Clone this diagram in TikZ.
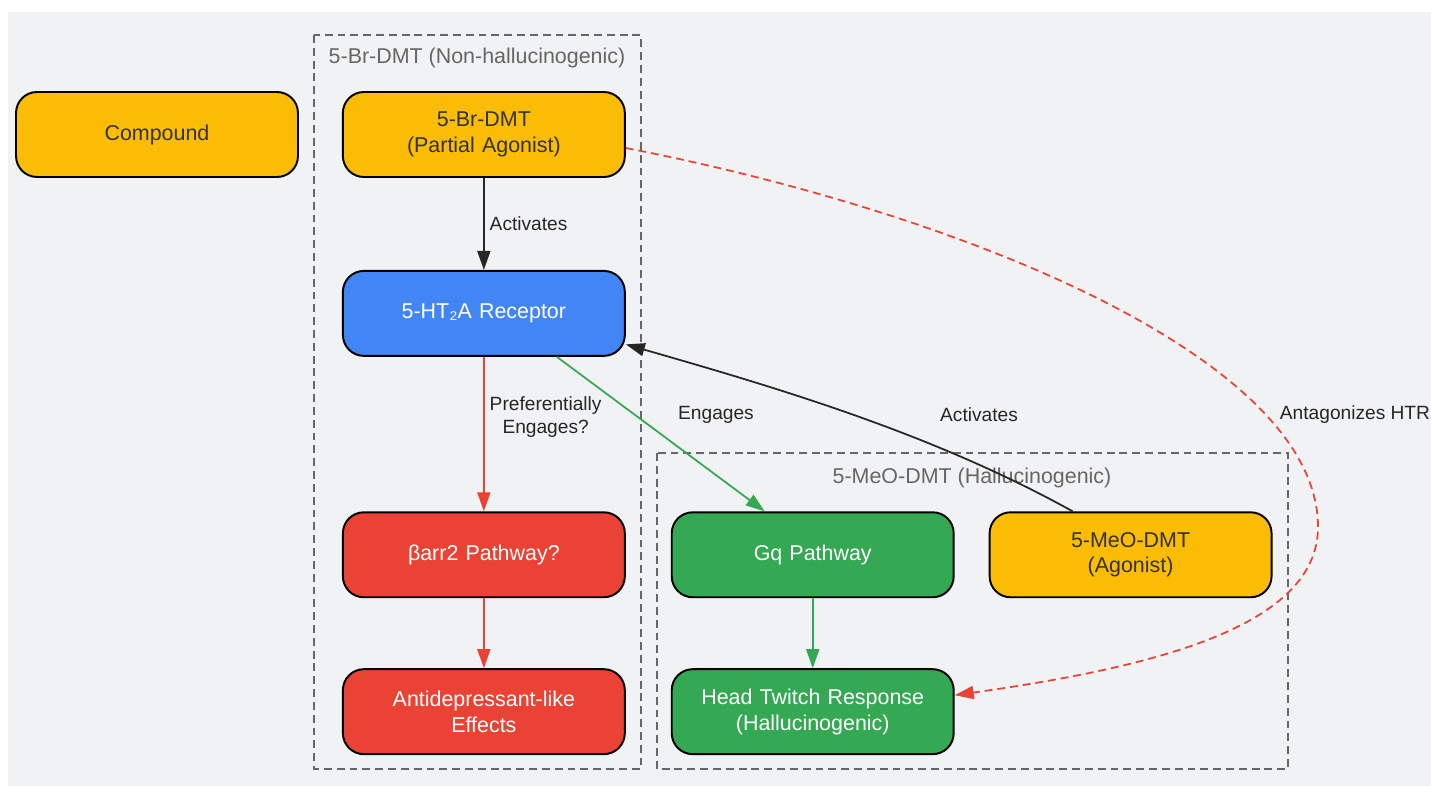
\documentclass[tikz,border=0pt]{standalone}
\usepackage{fontspec}
\setmainfont{Liberation Sans}
\usepackage{tikz}
\usetikzlibrary{arrows.meta,matrix}
\usepackage{xcolor}
\definecolor{bgcol}{HTML}{F1F2F4}
\definecolor{gyellow}{HTML}{FBBC05}
\definecolor{gblue}{HTML}{4285F4}
\definecolor{gred}{HTML}{EA4335}
\definecolor{ggreen}{HTML}{34A853}
\definecolor{ink}{HTML}{333333}
\definecolor{boxgray}{HTML}{666666}

\begin{document}
\begin{tikzpicture}[x=0.02cm,y=-0.02cm]
\tikzstyle{block} = [rectangle, draw=black, line width=1.1pt, rounded corners=0.42cm,
text width=5cm, align=center, inner sep=0.2cm, minimum width=5.64cm, minimum height=1.7cm,
font=\fontsize{12.2}{14.7}\selectfont]
\tikzstyle{block_y} = [block, fill=gyellow, text=ink]
\tikzstyle{block_b} = [block, fill=gblue, text=white]
\tikzstyle{block_r} = [block, fill=gred, text=white]
\tikzstyle{block_g} = [block, fill=ggreen, text=white]
\tikzstyle{cluster} = [draw=boxgray, line width=1.1pt, dash pattern=on 4.5pt off 2.8pt]
\tikzstyle{clabel} = [text=boxgray, font=\fontsize{12.2}{14.7}\selectfont]
\tikzstyle{lbl} = [text=black!85, font=\fontsize{10.9}{13.2}\selectfont, align=center]
\tikzstyle{line} = [draw, line width=1pt, -{Triangle[length=0.38cm,width=0.26cm]}]
\tikzstyle{line_k} = [line, draw=black!85]
\tikzstyle{line_r} = [line, draw=gred]
\tikzstyle{line_g} = [line, draw=ggreen]
\tikzstyle{line_rd} = [line, draw=gred, dash pattern=on 4.5pt off 2.8pt]

\useasboundingbox (0,0) rectangle (1431,786);
\fill[bgcol] (8,12) rectangle (1431,786);

% subgraphs
\draw[cluster] (314,35) rectangle (641,769);
\node[clabel] (cbr) at (477,58) {5-Br-DMT (Non-hallucinogenic)};
\draw[cluster] (657,453) rectangle (1288,769);
\node[clabel] (cmeo) at (972,478) {5-MeO-DMT (Hallucinogenic)};

\matrix [matrix anchor=compound.center, column sep=0.68cm, row sep=0cm] at (157,134.5)
{
% row 1
\node [block_y] (compound) {Compound}; &[0.18cm]
\node [block_y] (brdmt) {5-Br-DMT\\(Partial Agonist)}; &[0.22cm] & \\[1.84cm]
% row 2
& \node [block_b] (rec) {5-HT₂A Receptor}; & & \\[3.09cm]
% row 3
& \node [block_r] (barr) {βarr2 Pathway?}; &
\node [block_g] (gq) {Gq Pathway}; &
\node [block_y] (meo) {5-MeO-DMT\\(Agonist)}; \\[1.40cm]
% row 4
& \node [block_r] (antidep) {Antidepressant-like\\Effects}; &
\node [block_g] (htr) {Head Twitch Response\\(Hallucinogenic)}; & \\
};

\coordinate (bendpt) at (1318,527);

\path[line_k] (brdmt) -- node[lbl, right, inner sep=0.1cm] (lact1) {Activates} (rec);
\path[line_r] (rec) -- node[lbl, right, pos=0.39, inner sep=0.1cm] (lpref) {Preferentially\\Engages?} (barr);
\path[line_r] (barr) -- (antidep);
\path[line_g] ([xshift=1.46cm]rec.south) -- ([xshift=-0.96cm]gq.north);
\path[line_g] (gq) -- (htr);
\path[line_k] ([xshift=-1.16cm]meo.north) .. controls +(151:3.2cm) and +(-16:3.2cm) .. ([yshift=-0.62cm]rec.east);
\path[line_rd] ([yshift=-0.27cm]brdmt.east) .. controls +(-11:7cm) and +(0,3.34cm) .. (bendpt)
  .. controls +(0,-2cm) and +(8:4cm) .. ([yshift=0.33cm]htr.east);

\node[lbl] (leng) at (716,415) {Engages};
\node[lbl] (lact2) at (979,415) {Activates};
\node[lbl] (lant) at (1355,415) {Antagonizes HTR};

\end{tikzpicture}
\end{document}
